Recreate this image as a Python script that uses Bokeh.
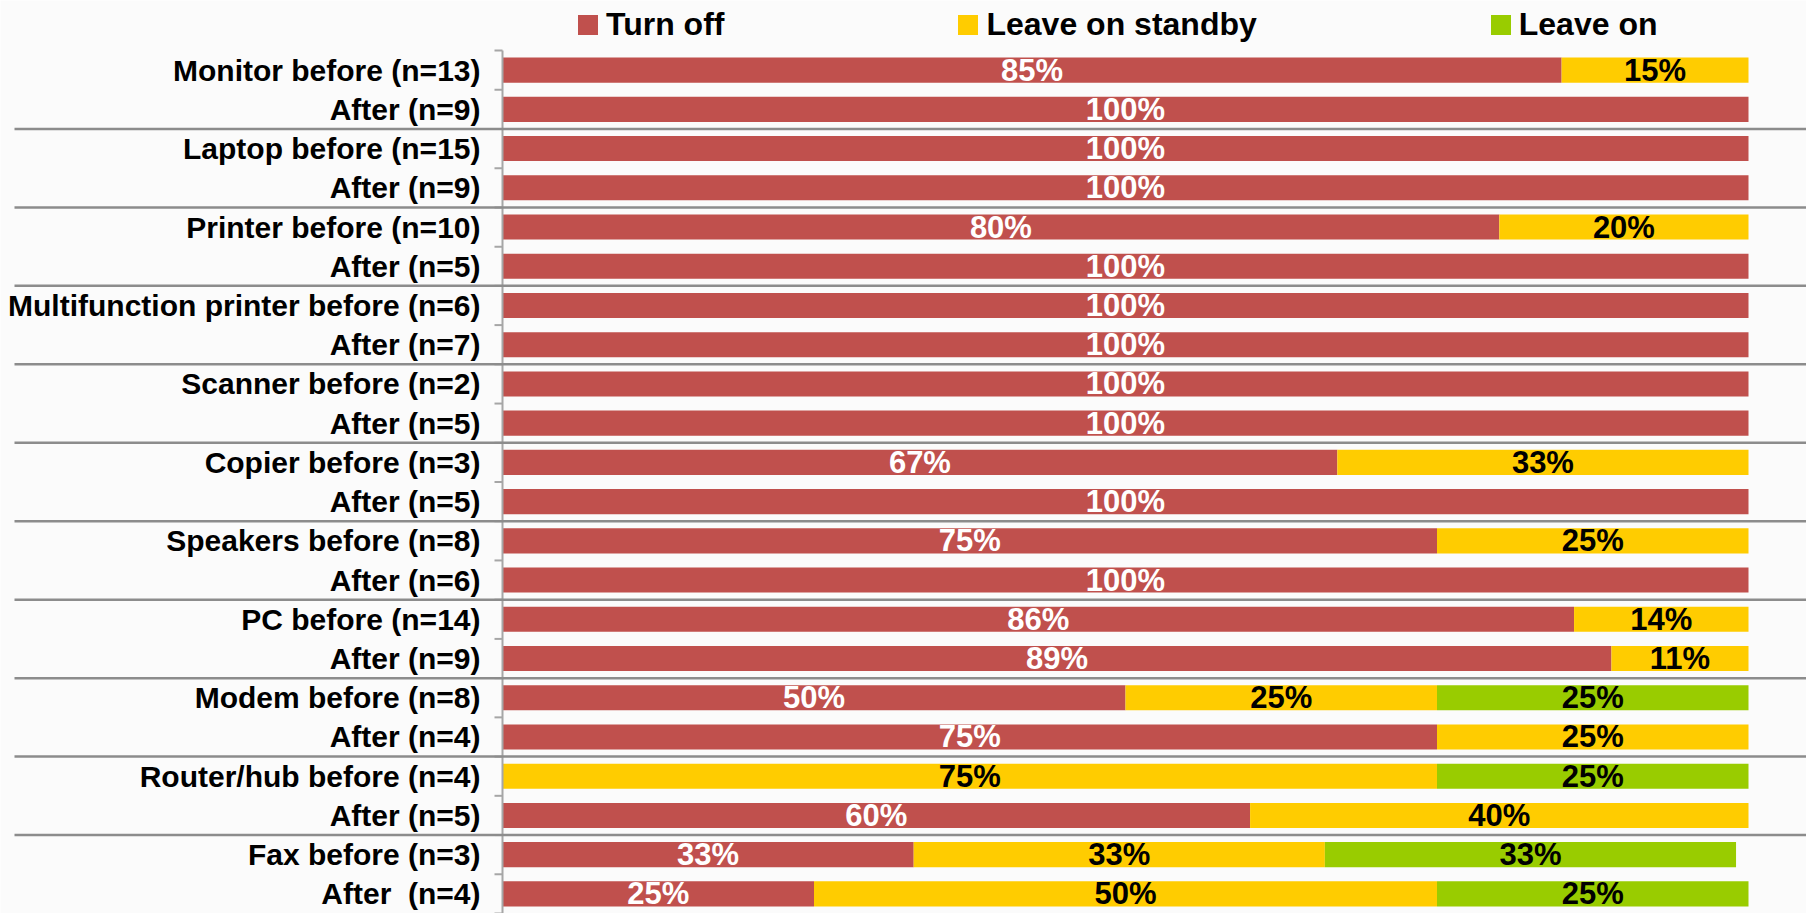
from bokeh.plotting import figure
from bokeh.models import ColumnDataSource, Range1d
from bokeh.core.properties import value
from bokeh.embed import file_html
from bokeh.resources import INLINE

categories = [
    "Monitor before (n=13)", "After (n=9)",
    "Laptop before (n=15)", "After (n=9)",
    "Printer before (n=10)", "After (n=5)",
    "Multifunction printer before (n=6)", "After (n=7)",
    "Scanner before (n=2)", "After (n=5)",
    "Copier before (n=3)", "After (n=5)",
    "Speakers before (n=8)", "After (n=6)",
    "PC before (n=14)", "After (n=9)",
    "Modem before (n=8)", "After (n=4)",
    "Router/hub before (n=4)", "After (n=5)",
    "Fax before (n=3)", "After\u00a0\u00a0(n=4)",
]
turn_off = [85, 100, 100, 100, 80, 100, 100, 100, 100, 100, 67, 100, 75, 100, 86, 89, 50, 75, 0, 60, 33, 25]
standby = [15, 0, 0, 0, 20, 0, 0, 0, 0, 0, 33, 0, 25, 0, 14, 11, 25, 25, 75, 40, 33, 50]
leave_on = [0, 0, 0, 0, 0, 0, 0, 0, 0, 0, 0, 0, 0, 0, 0, 0, 25, 0, 25, 0, 33, 25]
series_names = ["Turn off", "Leave on standby", "Leave on"]
series_colors = ["#C0504D", "#FFCC00", "#99CC00"]
label_colors = ["white", "black", "black"]

# ---- layout (pixels) ----
W, H = 1806, 913
axis_px = 502          # x of 0%
full_px = 1748         # x of 100%
scale = full_px - axis_px
x_start = -axis_px / scale
x_end = (W - axis_px) / scale
row_top_px = 50
y_end = 21.5
pitch = (H - row_top_px) / (y_end + 0.5)
y_start = -0.5 - row_top_px / pitch

FONT = value("Liberation Sans")

p = figure(width=W, height=H, output_backend="svg", toolbar_location=None,
           x_range=Range1d(x_start, x_end), y_range=Range1d(y_end, y_start),
           x_axis_type=None, y_axis_type=None, min_border=0,
           background_fill_color="#FBFBFB", border_fill_color="#FBFBFB")
p.outline_line_color = None
p.xgrid.visible = False
p.ygrid.visible = False

n = len(categories)
rows = list(range(n))
src = ColumnDataSource(dict(
    y=rows,
    off=[v / 100 for v in turn_off],
    standby=[v / 100 for v in standby],
    on=[v / 100 for v in leave_on],
))
p.hbar_stack(["off", "standby", "on"], y="y", height=0.64, color=series_colors,
             line_color=None, source=src, legend_label=series_names)

# data labels
lx, ly, lt, lc = [], [], [], []
for i in range(n):
    cum = 0
    for j, vals in enumerate([turn_off, standby, leave_on]):
        v = vals[i]
        if v > 0:
            lx.append((cum + v / 2) / 100)
            ly.append(i)
            lt.append(f"{v}%")
            lc.append(label_colors[j])
        cum += v
p.text(x=lx, y=ly, text=lt, text_color=lc, text_align="center", text_baseline="middle",
       text_font=FONT, text_font_style="bold", text_font_size="31px")

# axis line and ticks
bounds = [i - 0.5 for i in range(n + 1)]
p.segment(x0=[0], x1=[0], y0=[-0.5], y1=[y_end], line_color="#A6A6A6", line_width=2)
p.segment(x0=[-8 / scale] * len(bounds), x1=[0] * len(bounds), y0=bounds, y1=bounds,
          line_color="#A6A6A6", line_width=2)

# group separators
seps = [i + 0.5 for i in range(n - 1) if "before" in categories[i + 1]]
p.segment(x0=[(14 - axis_px) / scale] * len(seps), x1=[x_end] * len(seps), y0=seps, y1=seps,
          line_color="#8C8C8C", line_width=2.5)

# category labels
p.text(x=[-22 / scale] * n, y=rows, text=categories, text_align="right", text_baseline="middle",
       text_color="black", text_font=FONT, text_font_style="bold", text_font_size="30px")

lg = p.legend[0]
lg.orientation = "horizontal"
lg.location = (575, H - 43)
lg.padding = 0
lg.margin = 0
lg.spacing = 231
lg.glyph_width = 25
lg.glyph_height = 25
lg.label_standoff = 6
lg.label_text_font = "Liberation Sans"
lg.label_text_font_style = "bold"
lg.label_text_font_size = "32px"
lg.label_text_color = "black"
lg.border_line_color = None
lg.background_fill_alpha = 0

open("out.html", "w").write(file_html(p, INLINE))
